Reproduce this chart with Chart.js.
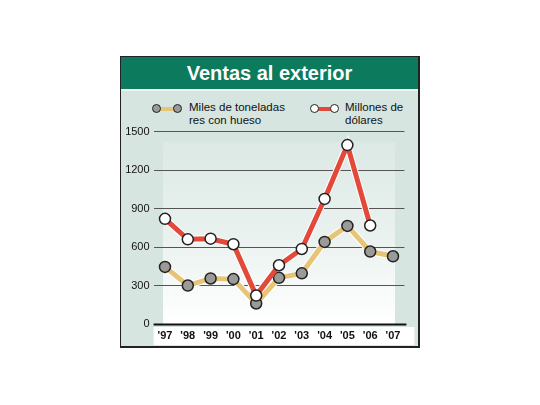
<!DOCTYPE html>
<html><head><meta charset="utf-8">
<script src="https://cdn.jsdelivr.net/npm/chart.js@4/dist/chart.umd.min.js"></script>
<style>
html,body{margin:0;padding:0;background:#fff;width:540px;height:405px;overflow:hidden;font-family:"Liberation Sans",Arial,sans-serif;}
#box{position:absolute;left:120px;top:56px;width:297px;height:289px;border:1px solid #222;border-right:2px solid #222;border-bottom:2px solid #222;background:#d7e5e1;}
#head{position:absolute;left:0;top:0;width:297px;height:32px;background:#0b7a5d;color:#fff;font-weight:bold;font-size:20px;text-align:center;line-height:33px;border-bottom:2px solid #eef5f3;}
.leg{position:absolute;font-size:11.5px;line-height:13px;color:#111;}
.mk{position:absolute;height:4px;}
.dot{position:absolute;width:7px;height:7px;border:1px solid #222;border-radius:50%;}
#wrap{position:absolute;left:121px;top:121px;width:298px;height:226px;}
</style></head>
<body>
<div id="box">
  <div id="head">Ventas al exterior</div>
</div>
<div class="mk" style="left:158px;top:107px;width:20px;background:#e6c478;"></div>
<div class="dot" style="left:152px;top:104px;background:#9a9a98;"></div>
<div class="dot" style="left:173px;top:104px;background:#9a9a98;"></div>
<div class="leg" style="left:189px;top:101px;">Miles de toneladas<br>res con hueso</div>
<div class="mk" style="left:316px;top:107px;width:20px;background:#e2493a;"></div>
<div class="dot" style="left:310px;top:104px;background:#fff;"></div>
<div class="dot" style="left:330px;top:104px;background:#fff;"></div>
<div class="leg" style="left:345px;top:101px;">Millones de<br>dólares</div>
<div id="wrap"><canvas id="c" width="298" height="226"></canvas></div>
<script>
const years = ["'97","'98","'99","'00","'01","'02","'03","'04","'05","'06","'07"];
const toneladas = [445, 300, 355, 350, 160, 360, 395, 640, 765, 565, 528];
const dolares = [820, 660, 665, 622, 222, 458, 585, 975, 1395, 768, null];
const yTicks = [0, 300, 600, 900, 1200, 1500];

const bgPlugin = {
  id: 'bg',
  beforeDraw(chart) {
    const {ctx, chartArea: a} = chart;
    const xs = chart.scales.x;
    const l = xs.getPixelForValue(0) - 2, r = xs.getPixelForValue(10) + 2;
    const g = ctx.createLinearGradient(0, a.top, 0, a.bottom);
    g.addColorStop(0, '#dbe8e4');
    g.addColorStop(0.55, '#eaf2ef');
    g.addColorStop(1, '#ffffff');
    ctx.save();
    ctx.fillStyle = g;
    ctx.fillRect(l, a.top + 10, r - l, a.bottom - a.top - 10);
    ctx.fillStyle = '#ffffff';
    ctx.fillRect(a.left, a.bottom + 3, a.right - a.left + 10, 18);
    ctx.restore();
  },
  afterDraw(chart) {
    const {ctx, chartArea: a} = chart;
    ctx.save();
    ctx.strokeStyle = '#111';
    ctx.lineWidth = 2;
    ctx.beginPath();
    ctx.moveTo(a.left, a.bottom + 0.5);
    ctx.lineTo(a.right + 2, a.bottom + 0.5);
    ctx.stroke();
    ctx.restore();
  }
};

const ptBase = {pointRadius: 5.5, pointHoverRadius: 5.5, pointBorderWidth: 1.5, pointBorderColor: '#222', tension: 0};
new Chart(document.getElementById('c'), {
  type: 'line',
  data: {
    labels: years,
    datasets: [
      {data: dolares, borderColor: '#ffffff', borderWidth: 7, pointRadius: 0, spanGaps: false, order: 4},
      {data: toneladas, borderColor: '#ffffff', borderWidth: 7, pointRadius: 0, order: 3},
      Object.assign({data: toneladas, borderColor: '#e6c478', borderWidth: 5, pointBackgroundColor: '#9a9a98', order: 2}, ptBase),
      Object.assign({data: dolares, borderColor: '#e2493a', borderWidth: 5, pointBackgroundColor: '#ffffff', order: 1}, ptBase)
    ]
  },
  options: {
    responsive: false,
    animation: false,
    events: [],
    layout: {padding: {top: 8, right: 14.6, left: 0, bottom: 0}},
    plugins: {legend: {display: false}, tooltip: {enabled: false}},
    scales: {
      x: {
        offset: true,
        grid: {display: false, drawTicks: false},
        border: {display: false},
        ticks: {color: '#111', font: {family: 'Liberation Sans', size: 11, weight: 'bold'}, padding: 5, maxRotation: 0, autoSkip: false},
        afterFit(s) { s.height = 23; }
      },
      y: {
        min: 0, max: 1500,
        afterBuildTicks(s) { s.ticks = yTicks.map(v => ({value: v})); },
        grid: {color: '#555', lineWidth: 1, drawTicks: false},
        border: {display: false},
        ticks: {color: '#111', font: {family: 'Liberation Sans', size: 11}, padding: 4, callback: v => String(v)},
        afterFit(s) { s.width = 32.6; }
      }
    }
  },
  plugins: [bgPlugin]
});
</script>
</body></html>
